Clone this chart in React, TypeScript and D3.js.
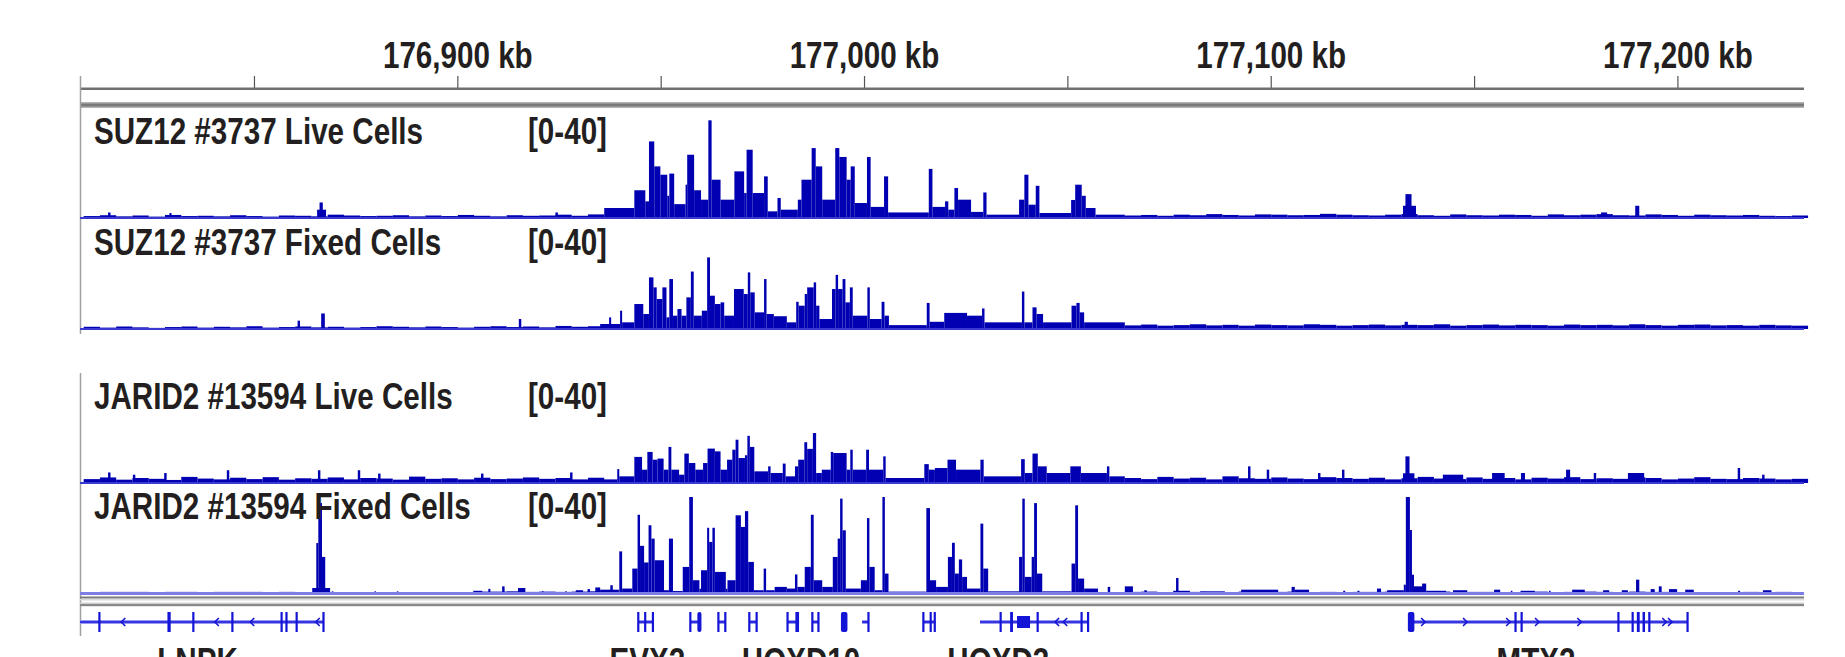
import React, { useEffect, useRef } from 'react';
import * as d3 from 'd3';

// ---- genomic window (kb) ----
const START_KB = 176807.1;
const END_KB = 177231.0;
const tickKb = [176850, 176900, 176950, 177000, 177050, 177100, 177150, 177200];
const labelKb = [176900, 177000, 177100, 177200];
const dataRange = [0, 40];

const trackNames = [
  'SUZ12 #3737 Live Cells',
  'SUZ12 #3737 Fixed Cells',
  'JARID2 #13594 Live Cells',
  'JARID2 #13594 Fixed Cells',
];

// low background signal, 4 kb bins: left flank from 176808, right flank from 177064
const NOISE_BIN = 4;
const NOISE_L_START = 176808;
const NOISE_R_START = 177064;

const suzLiveNoiseL = [0.7, 1.0, 0.6, 0.9, 0.5, 1.1, 0.7, 0.8, 0.6, 1.0, 0.7, 0.5, 0.9, 0.8, 0.6, 1.2, 0.9, 0.7, 0.8, 1.0, 0.6, 0.9, 0.7, 1.1, 0.8, 0.6, 1.0, 0.8, 0.9, 1.2, 0.8, 1.3];
const suzLiveNoiseR = [0.9, 1.1, 0.8, 1.2, 1.0, 1.4, 1.1, 0.9, 1.3, 1.2, 1.0, 1.1, 1.5, 1.2, 1.0, 0.9, 1.2, 1.4, 1.0, 0.8, 1.3, 1.0, 0.9, 1.2, 1.1, 0.8, 1.3, 1.0, 1.2, 1.4, 1.0, 0.9, 1.3, 1.1, 0.8, 1.2, 1.0, 0.9, 1.1, 0.8, 0.7, 0.9];
const suzFixedNoiseL = [0.8, 0.5, 0.9, 0.6, 0.4, 0.7, 0.9, 0.5, 0.8, 0.6, 1.0, 0.5, 0.7, 0.9, 0.6, 0.8, 0.5, 0.7, 1.0, 0.8, 0.6, 0.9, 0.7, 0.5, 0.8, 1.0, 0.7, 0.9, 0.6, 1.1, 0.8, 1.0];
const suzFixedNoiseR = [1.3, 1.6, 1.2, 1.4, 1.7, 1.3, 1.5, 1.2, 1.6, 1.4, 1.3, 1.7, 1.5, 1.2, 1.4, 1.6, 1.3, 1.5, 1.4, 1.7, 1.2, 1.4, 1.6, 1.3, 1.5, 1.4, 1.2, 1.6, 1.4, 1.5, 1.3, 1.7, 1.4, 1.2, 1.5, 1.6, 1.3, 1.4, 1.2, 1.5, 1.3, 1.2];
const jarLiveNoiseL = [1.4, 2.0, 1.2, 1.8, 1.5, 1.1, 2.2, 1.6, 1.3, 1.9, 1.4, 2.1, 1.2, 1.7, 1.5, 2.0, 1.3, 1.8, 1.6, 1.2, 2.3, 1.5, 1.7, 1.3, 1.9, 1.4, 1.6, 2.0, 1.5, 1.8, 1.3, 1.9];
const jarLiveNoiseR = [1.8, 1.4, 2.2, 1.6, 1.9, 1.3, 2.4, 1.7, 1.5, 2.0, 1.6, 1.4, 2.1, 1.8, 1.5, 1.9, 1.3, 1.7, 2.2, 1.6, 1.4, 2.0, 1.5, 1.8, 1.3, 1.9, 1.6, 2.1, 1.4, 1.7, 1.5, 2.0, 1.8, 1.3, 1.6, 2.1, 1.5, 1.4, 1.8, 1.6, 1.3, 1.5];
const jarFixedNoiseL = [0, 0.4, 0.4, 0.4, 0, 0.4, 0.4, 0, 0.4, 0.4, 0.4, 0, 0.4, 0, 0, 0, 0, 0, 0, 0, 0, 0, 0, 0, 0.5, 0.5, 0.6, 0.4, 0.5, 0.4, 0.5, 0.6];
const jarFixedNoiseR = [0.4, 0.5, 0, 0.4, 0.4, 0, 0.3, 0.5, 0.4, 0.4, 0.5, 0, 0.4, 0, 0.4, 0.4, 0.5, 0, 0.4, 0.5, 0, 0.4, 0.4, 0, 0.3, 0.5, 0, 0.4, 0.5, 0.4, 0, 0.5, 0.4, 0.4, 0, 0, 0, 0, 0.4, 0, 0.4, 0];

// signal segments: [startKb, endKb, value]
const suzLivePeaks = [
  [176814.0, 176814.6, 2], [176829.1, 176829.6, 1.8], [176865.4, 176867.6, 3], [176866.0, 176866.8, 5.6], [176924.0, 176924.6, 2],
  [176936.0, 176943.4, 3.6], [176943.4, 176946.1, 10], [176946.1, 176947.0, 6], [176947.0, 176948.3, 27.6], [176948.3, 176949.8, 18.6],
  [176949.8, 176951.5, 15.6], [176951.5, 176952.0, 8], [176952.0, 176953.2, 16], [176953.2, 176956.0, 5], [176956.0, 176956.4, 12],
  [176956.4, 176958.1, 22.8], [176958.1, 176959.8, 10], [176959.8, 176961.6, 6.6], [176961.6, 176962.4, 35.2], [176962.4, 176964.6, 13.8],
  [176964.6, 176968.0, 6.6], [176968.0, 176970.4, 16.8], [176970.4, 176971.0, 9], [176971.0, 176972.5, 24.6], [176972.5, 176975.3, 9],
  [176975.3, 176976.2, 15], [176976.2, 176978.6, 2.4], [176978.6, 176979.4, 7.2], [176979.4, 176983.6, 3], [176983.6, 176984.5, 6.6],
  [176984.5, 176987.0, 13.8], [176987.0, 176988.0, 25.2], [176988.0, 176989.6, 18.6], [176989.6, 176992.8, 6.6], [176992.8, 176993.8, 25.2],
  [176993.8, 176995.6, 22], [176995.6, 176996.6, 13.8], [176996.6, 176997.6, 18.6], [176997.6, 177000.6, 5.4], [177000.6, 177001.5, 22],
  [177001.5, 177004.8, 4], [177004.8, 177005.8, 15], [177005.8, 177015.8, 2], [177015.8, 177016.7, 17.7], [177016.7, 177019.8, 4],
  [177019.8, 177020.6, 6], [177020.6, 177022.1, 3], [177022.1, 177023.0, 10.8], [177023.0, 177026.2, 6.6], [177026.2, 177029.2, 2.2],
  [177029.2, 177030.0, 9.2], [177030.0, 177038.0, 1.2], [177038.0, 177039.3, 6.6], [177039.3, 177040.3, 15.6], [177040.3, 177042.1, 4.8],
  [177042.1, 177043.0, 11.6], [177043.0, 177050.8, 1.8], [177050.8, 177051.8, 6.5], [177051.8, 177053.4, 12], [177053.4, 177054.4, 8],
  [177054.4, 177056.8, 3.6], [177056.8, 177064.0, 1.2],
  [177132.4, 177135.6, 4.4], [177133.0, 177134.5, 8.6], [177181.1, 177182.6, 2], [177189.5, 177190.5, 4.4],
];

const suzFixedPeaks = [
  [176860.6, 176861.2, 3], [176866.4, 176867.3, 5.6], [176915.0, 176915.6, 3.6],
  [176935.0, 176939.9, 1.8], [176937.2, 176937.7, 4.2], [176939.9, 176940.4, 6.6], [176940.4, 176943.4, 2.4], [176943.4, 176945.6, 9],
  [176945.6, 176947.0, 5.4], [176947.0, 176948.1, 18.6], [176948.1, 176948.9, 15], [176948.9, 176950.3, 10.8], [176950.3, 176951.3, 15],
  [176951.3, 176952.0, 4.2], [176952.0, 176952.9, 18], [176952.9, 176954.0, 4.8], [176954.0, 176955.0, 7.2], [176955.0, 176956.2, 4.8],
  [176956.2, 176957.3, 11.4], [176957.3, 176958.0, 20.7], [176958.0, 176960.0, 4.8], [176960.0, 176961.3, 6.6], [176961.3, 176962.0, 25.8],
  [176962.0, 176963.2, 12], [176963.2, 176964.6, 9], [176964.6, 176965.5, 9.6], [176965.5, 176967.9, 4.8], [176967.9, 176970.3, 14.4],
  [176970.3, 176971.3, 12.6], [176971.3, 176971.9, 20.4], [176971.9, 176973.0, 13.2], [176973.0, 176975.3, 6], [176975.3, 176975.9, 18],
  [176975.9, 176977.7, 5.4], [176977.7, 176980.9, 4.6], [176980.9, 176983.2, 2.4], [176983.2, 176983.8, 9.8], [176983.8, 176985.3, 8.4],
  [176985.3, 176985.9, 12.6], [176985.9, 176987.5, 15], [176987.5, 176988.1, 16.8], [176988.1, 176988.9, 8.4], [176988.9, 176992.0, 3.6],
  [176992.0, 176992.9, 14.4], [176992.9, 176993.5, 19.5], [176993.5, 176994.6, 14.4], [176994.6, 176995.3, 18], [176995.3, 176996.4, 9.6],
  [176996.4, 176997.1, 15], [176997.1, 177000.7, 4.8], [177000.7, 177001.3, 15], [177001.3, 177004.2, 3.6], [177004.2, 177004.9, 9.8],
  [177004.9, 177006.0, 4.8], [177006.0, 177015.3, 1.4], [177015.3, 177016.0, 9.4], [177016.0, 177019.6, 2.6], [177019.6, 177025.2, 5.8],
  [177025.2, 177028.9, 4.8], [177028.9, 177029.5, 7.4], [177029.5, 177038.7, 2.4], [177038.7, 177039.3, 13.5], [177039.3, 177041.3, 2.4],
  [177041.3, 177042.3, 7.8], [177042.3, 177043.9, 5.4], [177043.9, 177050.9, 2.4], [177050.9, 177052.1, 8.4], [177052.1, 177052.9, 9.4],
  [177052.9, 177054.0, 6], [177054.0, 177064.0, 2.4],
  [177132.8, 177133.6, 2.6],
];

const jarLivePeaks = [
  [176814.0, 176814.6, 3.8], [176820.1, 176820.7, 3], [176827.8, 176828.4, 3.6], [176843.2, 176843.8, 4.6], [176865.6, 176866.2, 4.6],
  [176875.4, 176876.0, 4.6], [176880.4, 176881.0, 3.4], [176905.7, 176906.3, 3.4], [176927.6, 176928.2, 3.8],
  [176935.0, 176939.2, 1.3], [176939.2, 176939.7, 5], [176939.7, 176943.4, 2.4], [176943.4, 176945.3, 9.4], [176945.3, 176946.6, 4.8],
  [176946.6, 176947.9, 11.2], [176947.9, 176949.1, 8.4], [176949.1, 176950.6, 8.8], [176950.6, 176951.8, 4.8], [176951.8, 176952.5, 13],
  [176952.5, 176954.4, 4.8], [176954.4, 176955.7, 3], [176955.7, 176956.8, 10.6], [176956.8, 176958.4, 7.2], [176958.4, 176960.3, 4.8],
  [176960.3, 176961.4, 7.2], [176961.4, 176963.2, 12.4], [176963.2, 176964.6, 11.4], [176964.6, 176966.2, 4.8], [176966.2, 176967.5, 8.4],
  [176967.5, 176968.3, 12], [176968.3, 176969.0, 15.6], [176969.0, 176970.6, 9], [176970.6, 176971.2, 10], [176971.2, 176971.8, 17],
  [176971.8, 176972.9, 13], [176972.9, 176976.3, 4.2], [176976.3, 176976.9, 6], [176976.9, 176979.9, 3.6], [176979.9, 176980.6, 7],
  [176980.6, 176982.9, 2.4], [176982.9, 176983.7, 6], [176983.7, 176985.2, 8.4], [176985.2, 176985.9, 14.7], [176985.9, 176987.3, 12.3],
  [176987.3, 176988.1, 18], [176988.1, 176989.5, 3.6], [176989.5, 176991.7, 4.8], [176991.7, 176992.3, 11.2], [176992.3, 176995.6, 10.8],
  [176995.6, 176996.5, 4.8], [176996.5, 176997.1, 12], [176997.1, 177000.4, 4.8], [177000.4, 177001.1, 12], [177001.1, 177004.6, 4.8],
  [177004.6, 177005.2, 9.6], [177005.2, 177014.7, 1.8], [177014.7, 177015.8, 6.8], [177015.8, 177017.3, 4.8], [177017.3, 177020.4, 5.4],
  [177020.4, 177022.5, 8.4], [177022.5, 177028.5, 4.8], [177028.5, 177029.3, 8.4], [177029.3, 177038.5, 2.4], [177038.5, 177039.4, 8.6],
  [177039.4, 177041.3, 3.6], [177041.3, 177042.6, 10.6], [177042.6, 177044.8, 6], [177044.8, 177050.6, 3.6], [177050.6, 177053.2, 6],
  [177053.2, 177059.6, 3.6], [177059.6, 177060.2, 6], [177060.2, 177064.0, 2.4],
  [177094.3, 177094.9, 6], [177098.9, 177099.5, 4.8], [177111.5, 177112.1, 3.6], [177117.4, 177118.0, 4.8], [177132.4, 177135.2, 3.5],
  [177133.0, 177134.0, 9.6], [177142.2, 177147.2, 3], [177154.3, 177157.4, 3.6], [177161.4, 177162.4, 3.6], [177172.5, 177173.5, 4.8],
  [177179.3, 177179.9, 3.6], [177187.7, 177191.7, 3.6], [177214.7, 177215.3, 5.4], [177220.7, 177221.3, 3],
];

const jarFixedPeaks = [
  [176864.2, 176868.6, 1.8], [176865.2, 176865.7, 18], [176865.7, 176866.6, 32.4], [176866.6, 176867.4, 13],
  [176869.0, 176869.4, 0.6], [176879.5, 176879.9, 0.6], [176885.0, 176885.4, 0.6], [176903.8, 176906.0, 0.8], [176907.5, 176908.0, 1.5],
  [176910.9, 176911.5, 2.4], [176914.8, 176916.6, 1.8], [176920.7, 176921.1, 0.6], [176926.4, 176926.8, 0.6], [176929.0, 176930.8, 1],
  [176931.9, 176932.5, 1.4], [176933.8, 176935.0, 2],
  [176935.0, 176939.6, 1.2], [176937.5, 176938.1, 2.8], [176939.7, 176940.4, 15], [176940.4, 176942.9, 1.6], [176942.9, 176944.2, 8.8],
  [176944.2, 176944.8, 28.2], [176944.8, 176945.8, 17], [176945.8, 176946.9, 11], [176946.9, 176947.6, 24.4], [176947.6, 176948.4, 19.6],
  [176948.4, 176950.7, 11.8], [176950.7, 176951.9, 1], [176951.9, 176952.9, 19.6], [176952.9, 176955.3, 0.7], [176955.3, 176956.9, 9.4],
  [176956.9, 176957.8, 34.6], [176957.8, 176959.4, 4.6], [176959.4, 176959.8, 1.5], [176959.8, 176961.3, 8.2], [176961.3, 176961.8, 23.5],
  [176961.8, 176962.6, 18.4], [176962.6, 176963.2, 23.5], [176963.2, 176965.9, 7.6], [176965.9, 176966.3, 1.5], [176966.3, 176968.3, 4.6],
  [176968.3, 176969.6, 28], [176969.6, 176970.6, 23.8], [176970.6, 176971.4, 29.5], [176971.4, 176972.8, 11.2], [176972.8, 176975.2, 1],
  [176975.2, 176975.8, 8.8], [176975.8, 176977.9, 1], [176977.9, 176980.9, 2.2], [176980.9, 176982.9, 1.6], [176982.9, 176983.5, 6.7],
  [176983.5, 176985.3, 2.2], [176985.3, 176986.8, 9.4], [176986.8, 176987.5, 28.2], [176987.5, 176989.6, 4.6], [176989.6, 176992.2, 2.2],
  [176992.2, 176993.4, 13], [176993.4, 176994.0, 19.6], [176994.0, 176994.6, 34], [176994.6, 176995.4, 22.6], [176995.4, 176999.1, 1.6],
  [176999.1, 177000.6, 4.6], [177000.6, 177001.2, 27], [177001.2, 177002.5, 9.4], [177002.5, 177004.4, 1], [177004.4, 177005.0, 34.6],
  [177005.0, 177005.9, 7], [177005.9, 177015.2, 0.5], [177015.2, 177016.1, 30.6], [177016.1, 177017.6, 4.6], [177017.6, 177020.5, 2.2],
  [177020.5, 177021.5, 13], [177021.5, 177022.2, 18.1], [177022.2, 177023.2, 7], [177023.2, 177024.0, 12.1], [177024.0, 177025.2, 5.8],
  [177025.2, 177028.5, 1.6], [177028.5, 177029.2, 25], [177029.2, 177030.4, 8.8], [177030.4, 177038.0, 0.6], [177038.0, 177038.8, 13],
  [177038.8, 177039.4, 34], [177039.4, 177041.1, 5.8], [177041.1, 177041.7, 13], [177041.7, 177042.4, 32.4], [177042.4, 177043.7, 7],
  [177043.7, 177050.9, 0.6], [177050.9, 177051.8, 10.6], [177051.8, 177052.5, 31.6], [177052.5, 177054.0, 5.2], [177054.0, 177057.4, 1.6],
  [177059.8, 177060.4, 2.2],
  [177064.0, 177066.0, 2.4], [177068.8, 177069.4, 1], [177075.9, 177080.0, 0.8], [177076.6, 177077.2, 5.4], [177082.5, 177088.6, 0.6],
  [177092.6, 177101.7, 1.2], [177105.0, 177105.8, 2.2], [177105.8, 177109.3, 1.2], [177117.7, 177118.2, 0.8], [177121.2, 177121.7, 0.8],
  [177126.0, 177127.0, 1.6], [177128.5, 177132.6, 1], [177132.6, 177133.1, 3], [177133.1, 177134.1, 34.6], [177134.1, 177134.6, 22.7],
  [177134.6, 177135.1, 6.6], [177135.1, 177137.6, 2.4], [177137.1, 177138.1, 3.4], [177138.1, 177143.0, 0.8], [177144.7, 177148.2, 1],
  [177154.8, 177156.3, 1.2], [177158.9, 177159.3, 0.8], [177161.3, 177164.8, 0.8], [177168.3, 177168.7, 0.8], [177174.0, 177177.1, 1.2],
  [177181.6, 177183.1, 1], [177186.2, 177187.7, 1], [177189.7, 177190.5, 4.8], [177193.3, 177194.3, 1.4], [177195.3, 177196.0, 2.4],
  [177197.8, 177199.8, 1.4], [177201.8, 177203.9, 1.2], [177214.8, 177215.3, 0.8], [177220.9, 177223.0, 1],
];

// gene annotation: line span, exons, strand marks
const genes = [
  { start: 176807.1, end: 176867.1, strand: -1, arrows: [176817.5, 176840.5, 176849.2, 176865.3],
    exons: [[176811.6, 176812.1], [176828.6, 176829.4], [176834.7, 176835.2], [176844.3, 176844.8], [176856.4, 176856.9], [176857.6, 176858.1], [176860.1, 176860.6], [176866.7, 176867.2]] },
  { start: 176944.3, end: 176948.0, strand: 1, arrows: [],
    exons: [[176944.1, 176944.6], [176945.8, 176946.3], [176947.7, 176948.2]] },
  { start: 176957.1, end: 176959.8, strand: 1, arrows: [],
    exons: [[176956.9, 176957.4], [176958.9, 176959.9]] },
  { start: 176964.0, end: 176965.7, strand: 1, arrows: [],
    exons: [[176963.8, 176964.3], [176965.5, 176966.0]] },
  { start: 176971.6, end: 176973.4, strand: 1, arrows: [],
    exons: [[176971.4, 176971.9], [176973.2, 176973.7]] },
  { start: 176981.0, end: 176983.9, strand: 1, arrows: [],
    exons: [[176980.8, 176981.3], [176983.0, 176983.9]] },
  { start: 176987.1, end: 176988.6, strand: 1, arrows: [],
    exons: [[176986.9, 176987.4], [176988.4, 176988.9]] },
  { start: 176994.3, end: 176995.7, strand: 1, arrows: [],
    exons: [[176994.2, 176995.8]] },
  { start: 176999.4, end: 177000.9, strand: 1, arrows: [],
    exons: [[177000.7, 177001.1]] },
  { start: 177014.4, end: 177017.4, strand: 1, arrows: [],
    exons: [[177014.2, 177014.7], [177016.0, 177016.5], [177017.0, 177017.5]] },
  { start: 177028.4, end: 177055.0, strand: -1, arrows: [177047.1, 177049.1],
    exons: [[177033.2, 177033.7], [177035.8, 177036.5], [177037.5, 177040.7], [177042.3, 177042.8], [177053.1, 177053.6], [177054.7, 177055.2]] },
  { start: 177133.7, end: 177202.3, strand: 1, arrows: [177137.6, 177147.9, 177158.5, 177165.6, 177176.0, 177196.9, 177198.3],
    exons: [[177133.6, 177135.2], [177159.8, 177160.3], [177161.3, 177161.8], [177185.1, 177185.6], [177188.6, 177189.1], [177189.9, 177190.6], [177191.3, 177191.9], [177192.7, 177193.2], [177202.1, 177202.6]] },
];
const geneLabels = ['LNPK', 'EVX2', 'HOXD10', 'HOXD3', 'MTX2'];
const geneLabelKb = [176836.0, 176946.6, 176984.4, 177032.9, 177165.1];

const W = 1845;
const H = 657;
const FONT = "'Liberation Sans', Arial, Helvetica, sans-serif";
const BLUE = '#0000b2';

export default function App() {
  const ref = useRef<SVGSVGElement>(null);

  useEffect(() => {
    const svg = d3.select(ref.current);
    svg.selectAll('*').remove();

    const left = 80, right = 1804;
    const x = d3.scaleLinear().domain([START_KB, END_KB]).range([left, right]);

    // tall, condensed bold labels
    const condensed = (g: any, text: string, tx: number, ty: number, anchor: string) =>
      g.append('text')
        .attr('transform', `translate(${tx},${ty}) scale(0.8,1)`)
        .attr('text-anchor', anchor)
        .attr('font-family', FONT)
        .attr('font-weight', 'bold')
        .attr('font-size', 37)
        .attr('fill', '#231f20')
        .text(text);

    // ****************** ruler ******************
    const ruler = svg.append('g');
    ruler.selectAll('line.tick').data(tickKb).enter().append('line')
      .attr('x1', (d) => x(d)).attr('x2', (d) => x(d))
      .attr('y1', 76).attr('y2', 88)
      .attr('stroke', '#555').attr('stroke-width', 1.2);
    labelKb.forEach((k) => condensed(ruler, `${d3.format(',')(k)} kb`, x(k), 68, 'middle'));
    ruler.append('rect').attr('x', left).attr('y', 87.5).attr('width', right - left).attr('height', 2.5).attr('fill', '#707070');
    ruler.append('rect').attr('x', left).attr('y', 102).attr('width', right - left).attr('height', 6).attr('fill', '#b4b4b4');
    ruler.append('rect').attr('x', left).attr('y', 103.5).attr('width', right - left).attr('height', 3).attr('fill', '#7a7a7a');

    // left border (broken between the two panels)
    svg.append('line').attr('x1', left + 0.5).attr('x2', left + 0.5).attr('y1', 76).attr('y2', 334)
      .attr('stroke', '#a0a0a0').attr('stroke-width', 1.5);
    svg.append('line').attr('x1', left + 0.5).attr('x2', left + 0.5).attr('y1', 373).attr('y2', 636)
      .attr('stroke', '#a0a0a0').attr('stroke-width', 1.5);

    // ****************** signal tracks ******************
    const tracks = [
      { name: trackNames[0], noiseL: suzLiveNoiseL, noiseR: suzLiveNoiseR, peaks: suzLivePeaks, base: 218 },
      { name: trackNames[1], noiseL: suzFixedNoiseL, noiseR: suzFixedNoiseR, peaks: suzFixedPeaks, base: 329 },
      { name: trackNames[2], noiseL: jarLiveNoiseL, noiseR: jarLiveNoiseR, peaks: jarLivePeaks, base: 483 },
      { name: trackNames[3], noiseL: jarFixedNoiseL, noiseR: jarFixedNoiseR, peaks: jarFixedPeaks, base: 593 },
    ];
    const trackH = 111;

    tracks.forEach((t, i) => {
      const g = svg.append('g');
      const y = d3.scaleLinear().domain(dataRange).range([t.base, t.base - trackH]);

      const noise = [
        ...t.noiseL.map((v, j) => [NOISE_L_START + j * NOISE_BIN, v]),
        ...t.noiseR.map((v, j) => [NOISE_R_START + j * NOISE_BIN, v]),
      ].filter((d) => d[1] > 0);

      g.selectAll('rect.noise').data(noise).enter().append('rect')
        .attr('x', (d) => x(d[0]))
        .attr('width', (d) => x(d[0] + NOISE_BIN) - x(d[0]))
        .attr('y', (d) => y(d[1]))
        .attr('height', (d) => t.base - y(d[1]))
        .attr('fill', BLUE);

      g.selectAll('rect.peak').data(t.peaks).enter().append('rect')
        .attr('x', (d) => x(d[0]))
        .attr('width', (d) => Math.max(1.6, x(d[1]) - x(d[0])))
        .attr('y', (d) => y(d[2]))
        .attr('height', (d) => t.base - y(d[2]))
        .attr('fill', BLUE);

      // baseline
      g.append('rect').attr('x', left).attr('y', t.base - 1).attr('width', right - left)
        .attr('height', i === 3 ? 3 : 2).attr('fill', i === 3 ? '#7d7de6' : '#3a3ad0');

      condensed(g, t.name, 94, t.base - trackH + 37, 'start');
      condensed(g, `[${dataRange[0]}-${dataRange[1]}]`, 528, t.base - trackH + 37, 'start');
    });

    // divider below the data panel
    svg.append('rect').attr('x', left).attr('y', 596.5).attr('width', right - left).attr('height', 2).attr('fill', '#7a7a7a');
    svg.append('rect').attr('x', left).attr('y', 599).attr('width', right - left).attr('height', 1.5).attr('fill', '#d8d8d8');
    svg.append('rect').attr('x', left).attr('y', 602.5).attr('width', right - left).attr('height', 1.5).attr('fill', '#d0d0d0');
    svg.append('rect').attr('x', left).attr('y', 604).attr('width', right - left).attr('height', 2.2).attr('fill', '#888');

    // ****************** gene track ******************
    const gy = 622;
    const gg = svg.append('g');
    const GENE = '#1414d6';
    genes.forEach((gene) => {
      gg.append('line')
        .attr('x1', x(gene.start)).attr('x2', x(gene.end))
        .attr('y1', gy).attr('y2', gy)
        .attr('stroke', '#9a9af5').attr('stroke-width', 4);
      gg.append('line')
        .attr('x1', x(gene.start)).attr('x2', x(gene.end))
        .attr('y1', gy).attr('y2', gy)
        .attr('stroke', GENE).attr('stroke-width', 1.6);
      gg.selectAll(null).data(gene.exons).enter().append('rect')
        .attr('x', (d) => x(d[0]))
        .attr('width', (d) => Math.max(2.2, x(d[1]) - x(d[0])))
        .attr('y', (d) => (x(d[1]) - x(d[0]) > 8 ? gy - 6 : gy - 10))
        .attr('height', (d) => (x(d[1]) - x(d[0]) > 8 ? 12 : 20))
        .attr('rx', (d) => (x(d[1]) - x(d[0]) > 4 && x(d[1]) - x(d[0]) <= 8 ? 2 : 0))
        .attr('fill', GENE);
      gg.selectAll(null).data(gene.arrows).enter().append('path')
        .attr('d', (d) => {
          const ax = x(d);
          const s = gene.strand;
          return `M${ax - 3 * s},${gy - 4} L${ax + 1 * s},${gy} L${ax - 3 * s},${gy + 4}`;
        })
        .attr('fill', 'none').attr('stroke', GENE).attr('stroke-width', 1.6);
    });
    // gene names sit below the visible area in the reference and are partly cut by the frame
    geneLabels.forEach((name, i) => condensed(gg, name, x(geneLabelKb[i]), 674, 'middle'));
  }, []);

  return (
    <svg
      ref={ref}
      width={W}
      height={H}
      style={{ position: 'absolute', left: 0, top: 0, background: '#fff', display: 'block' }}
    />
  );
}
